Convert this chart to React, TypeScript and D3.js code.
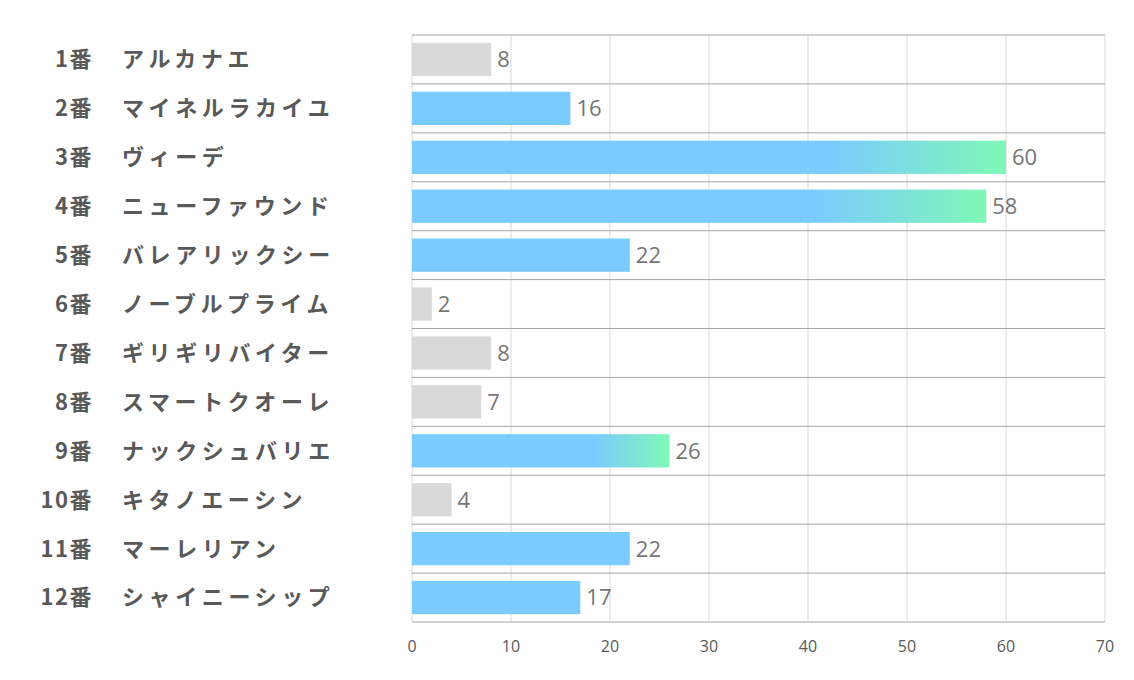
import React from "react";
import * as d3 from "d3";

const numbers = ["1番", "2番", "3番", "4番", "5番", "6番", "7番", "8番", "9番", "10番", "11番", "12番"];
const names = ["アルカナエ", "マイネルラカイユ", "ヴィーデ", "ニューファウンド", "バレアリックシー", "ノーブルプライム", "ギリギリバイター", "スマートクオーレ", "ナックシュバリエ", "キタノエーシン", "マーレリアン", "シャイニーシップ"];
const values = [8, 16, 60, 58, 22, 2, 8, 7, 26, 4, 22, 17];
const kinds = ["gray", "blue", "grad", "grad", "blue", "gray", "gray", "gray", "grad", "gray", "blue", "blue"];
const ticks = [0, 10, 20, 30, 40, 50, 60, 70];

const W = 1134, H = 680;
const left = 412, right = 1105, top = 35, bottom = 622;

export default function App() {
  const x = d3.scaleLinear().domain([0, 70]).range([left, right]);
  const y = d3.scaleBand<number>().domain(d3.range(values.length)).range([top, bottom]).paddingInner(0.32).paddingOuter(0.16);
  const step = y.step();
  const rowLines = d3.range(values.length + 1).map(i => top + i * step);
  const BLUE = "#7ACBFF";
  const GREEN = "#7FF8B6";
  return (
    <svg width={W} height={H} style={{ position: "absolute", left: 0, top: 0, background: "#fff" }}>
      <defs>
        <linearGradient id="g" x1="0" x2="1" y1="0" y2="0">
          <stop offset="0.7" stopColor={BLUE} />
          <stop offset="1" stopColor={GREEN} />
        </linearGradient>
      </defs>
      {ticks.map(t => (
        <line key={"v" + t} x1={x(t)} x2={x(t)} y1={top} y2={bottom} stroke="#D9D9D9" strokeWidth={1} />
      ))}
      {values.map((v, i) => {
        const fill = kinds[i] === "gray" ? "#D9D9D9" : kinds[i] === "blue" ? BLUE : "url(#g)";
        return (
          <rect key={"b" + i} x={x(0)} y={y(i)!} width={x(v) - x(0)} height={y.bandwidth()} fill={fill} />
        );
      })}
      {rowLines.map((ly, i) => (
        <line key={"h" + i} x1={left} x2={right} y1={ly} y2={ly} stroke="#A6A6A6" strokeWidth={1} />
      ))}
      {values.map((v, i) => (
        <text key={"vl" + i} x={x(v) + 6} y={y(i)! + y.bandwidth() / 2} dy="0.36em" fontSize={22}
          fontFamily="'Open Sans', 'Noto Sans', sans-serif" fill="#767676">{v}</text>
      ))}
      {numbers.map((n, i) => (
        <text key={"n" + i} x={93} y={y(i)! + y.bandwidth() / 2} dy="0.36em" textAnchor="end" fontSize={22}
          fontWeight="bold" letterSpacing={1.5} fontFamily="'Noto Sans CJK JP', sans-serif" fill="#595959">{n}</text>
      ))}
      {names.map((n, i) => (
        <text key={"nm" + i} x={122} y={y(i)! + y.bandwidth() / 2} dy="0.36em" fontSize={22}
          fontWeight="bold" letterSpacing={4.6} fontFamily="'Noto Sans CJK JP', sans-serif" fill="#595959">{n}</text>
      ))}
      {ticks.map(t => (
        <text key={"t" + t} x={x(t)} y={646} dy="0.36em" textAnchor="middle" fontSize={16}
          fontFamily="'Open Sans', 'Noto Sans', sans-serif" fill="#595959">{t}</text>
      ))}
    </svg>
  );
}
